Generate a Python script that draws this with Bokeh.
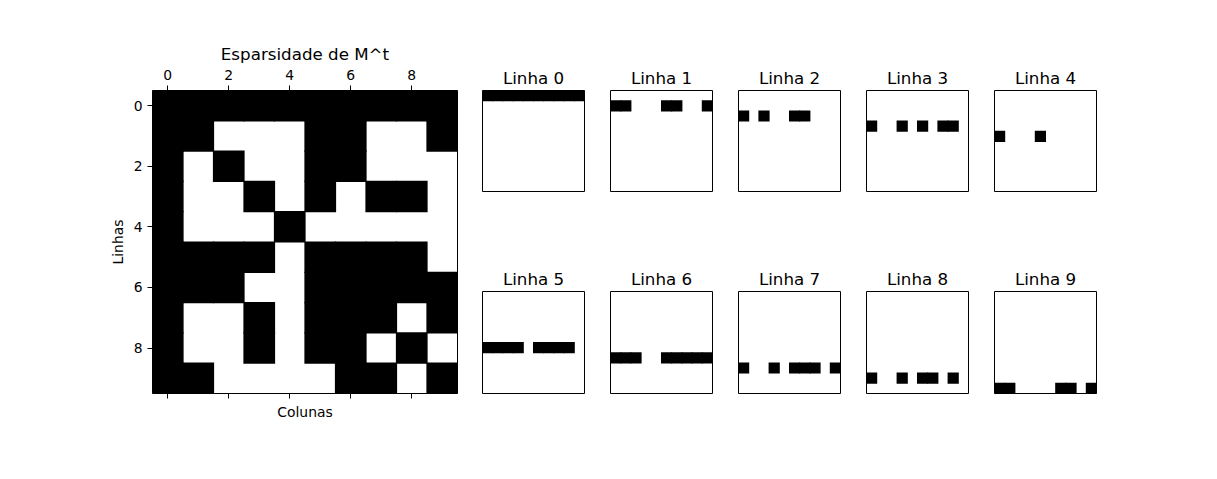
from bokeh.plotting import figure
from bokeh.models import Range1d, LinearAxis, FixedTicker, ColumnDataSource
from bokeh.layouts import row, column
from bokeh.embed import file_html
from bokeh.resources import INLINE

# Sparsity pattern of M^t (1 = non-zero)
M_rows = [
    [1, 1, 1, 1, 1, 1, 1, 1, 1, 1],
    [1, 1, 0, 0, 0, 1, 1, 0, 0, 1],
    [1, 0, 1, 0, 0, 1, 1, 0, 0, 0],
    [1, 0, 0, 1, 0, 1, 0, 1, 1, 0],
    [1, 0, 0, 0, 1, 0, 0, 0, 0, 0],
    [1, 1, 1, 1, 0, 1, 1, 1, 1, 0],
    [1, 1, 1, 0, 0, 1, 1, 1, 1, 1],
    [1, 0, 0, 1, 0, 1, 1, 1, 0, 1],
    [1, 0, 0, 1, 0, 1, 1, 0, 1, 0],
    [1, 1, 0, 0, 0, 0, 1, 1, 0, 1],
]
tick_values = [0, 2, 4, 6, 8]
main_title = "Esparsidade de M^t"
x_label = "Colunas"
y_label = "Linhas"
panel_titles = [f"Linha {i}" for i in range(10)]

FONT = "DejaVu Sans"
TICK_FS = "13.9px"
TITLE_FS = "16.7px"
CELL_MAIN = 1.04   # slight overlap so adjacent cells show no seams
CELL_SMALL = 1.1


def cells(rows_to_use):
    xs, ys = [], []
    for r in rows_to_use:
        for c, v in enumerate(M_rows[r]):
            if v:
                xs.append(c)
                ys.append(r)
    return ColumnDataSource(dict(x=xs, y=ys))


def style_axis(ax, show_labels=True):
    ax.ticker = FixedTicker(ticks=tick_values)
    ax.major_tick_out = 5
    ax.major_tick_in = 0
    ax.minor_tick_out = 0
    ax.minor_tick_in = 0
    ax.major_tick_line_color = "black"
    ax.axis_line_color = None
    ax.major_label_text_font = FONT
    ax.major_label_text_font_size = TICK_FS
    ax.major_label_text_color = "black"
    ax.major_label_standoff = 5
    if not show_labels:
        ax.major_label_overrides = {t: "" for t in tick_values}
    ax.axis_label_text_font = FONT
    ax.axis_label_text_font_style = "normal"
    ax.axis_label_text_color = "black"
    ax.axis_label_text_font_size = TICK_FS


# Main sparsity plot
p = figure(width=482, height=479,
           x_range=Range1d(-0.5, 9.5), y_range=Range1d(9.5, -0.5),
           x_axis_location="above",
           output_backend="svg", toolbar_location=None,
           min_border_left=152, min_border_right=25,
           min_border_top=90, min_border_bottom=86)
p.grid.visible = False
p.outline_line_color = "black"
p.outline_line_width = 1
p.rect(x="x", y="y", width=CELL_MAIN, height=CELL_MAIN, source=cells(range(10)),
       fill_color="black", line_color=None)

top_ax = p.xaxis[0]
style_axis(top_ax)
top_ax.major_label_standoff = 6
top_ax.axis_label = main_title
top_ax.axis_label_text_font_size = TITLE_FS
top_ax.axis_label_standoff = 3

left_ax = p.yaxis[0]
style_axis(left_ax)
left_ax.axis_label = y_label
left_ax.axis_label_standoff = 5
left_ax.major_label_orientation = "horizontal"

bottom_ax = LinearAxis()
style_axis(bottom_ax, show_labels=False)
bottom_ax.major_label_standoff = 0
bottom_ax.axis_label = x_label
bottom_ax.axis_label_standoff = 5
p.add_layout(bottom_ax, "below")


def panel(i):
    top_row = i < 5
    f = figure(width=128, height=192 if top_row else 287,
               x_range=Range1d(-0.5, 9.5), y_range=Range1d(9.5, -0.5),
               output_backend="svg", toolbar_location=None,
               min_border_left=0, min_border_right=26,
               min_border_top=90 if top_row else 99,
               min_border_bottom=0 if top_row else 86,
               title=panel_titles[i])
    f.axis.visible = False
    f.grid.visible = False
    f.outline_line_color = "black"
    f.outline_line_width = 1
    f.title.text_font = FONT
    f.title.text_font_size = TITLE_FS
    f.title.text_font_style = "normal"
    f.title.text_color = "black"
    f.title.align = "center"
    f.title.standoff = 5
    f.rect(x="x", y="y", width=CELL_SMALL, height=CELL_SMALL, source=cells([i]),
           fill_color="black", line_color=None)
    return f


panels = [panel(i) for i in range(10)]
layout = row(p, column(row(*panels[:5]), row(*panels[5:])))

open("out.html", "w").write(file_html(layout, INLINE))
